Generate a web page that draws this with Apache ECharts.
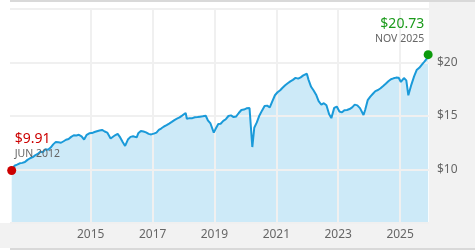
<!DOCTYPE html>
<html>
<head>
<meta charset="utf-8">
<script src="https://cdn.jsdelivr.net/npm/echarts@6/dist/echarts.min.js"></script>
<style>
html,body{margin:0;padding:0;background:#fff;}
#chart{width:475px;height:250px;}
</style>
</head>
<body>
<div id="chart"></div>
<script>
// Data
const dates = [
'2012-06-12','2012-07-15','2012-08-15','2012-09-15','2012-10-15','2012-11-15','2012-12-15',
'2013-01-15','2013-02-15','2013-03-15','2013-04-15','2013-05-15','2013-06-15','2013-07-15','2013-08-15','2013-09-15','2013-10-15','2013-11-15','2013-12-15',
'2014-01-15','2014-02-15','2014-03-15','2014-04-15','2014-05-15','2014-06-15','2014-07-15','2014-08-15','2014-09-15','2014-10-15','2014-11-15','2014-12-15',
'2015-01-15','2015-02-15','2015-03-15','2015-04-15','2015-05-15','2015-06-15','2015-07-15','2015-08-24','2015-09-15','2015-10-15','2015-11-15','2015-12-15',
'2016-01-15','2016-02-11','2016-03-15','2016-04-15','2016-05-15','2016-06-27','2016-07-15','2016-08-15','2016-09-15','2016-10-15','2016-11-15','2016-12-15',
'2017-01-15','2017-02-15','2017-03-15','2017-04-15','2017-05-15','2017-06-15','2017-07-15','2017-08-15','2017-09-15','2017-10-15','2017-11-15','2017-12-15',
'2018-01-26','2018-02-09','2018-03-15','2018-04-15','2018-05-15','2018-06-15','2018-07-15','2018-08-15','2018-09-20','2018-10-15','2018-11-15','2018-12-24',
'2019-01-15','2019-02-15','2019-03-15','2019-04-15','2019-05-15','2019-06-15','2019-07-15','2019-08-15','2019-09-15','2019-10-15','2019-11-15','2019-12-15',
'2020-01-15','2020-02-19','2020-03-23','2020-04-15','2020-05-15','2020-06-15','2020-07-15','2020-08-15','2020-09-15','2020-10-15','2020-11-15','2020-12-15',
'2021-01-15','2021-02-15','2021-03-15','2021-04-15','2021-05-15','2021-06-15','2021-07-15','2021-08-15','2021-09-15','2021-10-15','2021-11-15','2021-12-27',
'2022-01-15','2022-02-15','2022-03-15','2022-04-15','2022-05-15','2022-06-16','2022-07-15','2022-08-15','2022-09-15','2022-10-12','2022-11-15','2022-12-15',
'2023-01-15','2023-02-15','2023-03-15','2023-04-15','2023-05-15','2023-06-15','2023-07-15','2023-08-15','2023-09-15','2023-10-27','2023-11-15','2023-12-15',
'2024-01-15','2024-02-15','2024-03-15','2024-04-15','2024-05-15','2024-06-15','2024-07-15','2024-08-15','2024-09-15','2024-10-15','2024-11-15','2024-12-15',
'2025-01-10','2025-02-15','2025-03-15','2025-04-08','2025-05-15','2025-06-15','2025-07-15','2025-08-15','2025-09-15','2025-10-15','2025-11-10','2025-11-28'
];
const prices = [
9.91,10.35,10.45,10.58,10.62,10.70,10.90,
11.05,11.15,11.32,11.45,11.65,11.62,11.90,11.85,12.05,12.35,12.58,12.55,
12.50,12.64,12.78,12.85,13.05,13.20,13.18,13.24,13.10,12.80,13.24,13.38,
13.40,13.50,13.57,13.64,13.70,13.55,13.45,12.90,13.00,13.20,13.33,13.00,
12.55,12.20,12.80,13.05,13.10,13.00,13.38,13.60,13.55,13.47,13.33,13.28,
13.35,13.45,13.70,13.85,14.02,14.14,14.29,14.45,14.62,14.75,14.87,15.04,
15.28,14.75,14.80,14.80,14.88,14.91,14.94,14.97,15.02,14.60,14.30,13.45,
13.80,14.26,14.28,14.54,14.70,15.00,15.06,14.90,14.96,15.28,15.56,15.60,
15.72,15.75,12.10,13.90,14.40,15.05,15.50,15.93,15.97,15.80,16.39,16.94,
17.22,17.41,17.64,17.87,18.06,18.24,18.38,18.56,18.49,18.61,18.80,18.95,
18.40,17.73,17.41,16.99,16.39,16.05,16.20,16.00,15.19,14.80,15.76,15.88,
15.42,15.34,15.54,15.56,15.65,15.81,16.06,15.99,15.74,15.09,15.56,16.48,
16.81,17.08,17.33,17.43,17.59,17.80,18.01,18.24,18.44,18.52,18.59,18.58,
18.18,18.55,18.33,16.94,17.96,18.70,19.29,19.50,19.80,20.09,20.35,20.73
];
const xTickYears = [2015, 2017, 2019, 2021, 2023, 2025];
const yTicks = [10, 15, 20];
const startLabel = 'JUN 2012';
const endLabel = 'NOV 2025';
const xMin = '2012-05-23';
const xMax = '2025-12-08';

const toMs = s => Date.parse(s + 'T00:00:00Z');
const seriesData = dates.map((d, i) => [toMs(d), prices[i]]);
const last = seriesData.length - 1;
const tickTimes = xTickYears.map(y => Date.UTC(y, 0, 1));
const FONT = 'Noto Sans';

const chart = echarts.init(document.getElementById('chart'), null, {renderer: 'canvas'});
chart.setOption({
  animation: false,
  backgroundColor: '#ffffff',
  textStyle: {fontFamily: FONT},
  graphic: [
    {type: 'rect', z: -10, shape: {x: 429, y: 2, width: 46, height: 246}, style: {fill: '#f2f2f2'}},
    {type: 'rect', z: -10, shape: {x: 0, y: 223, width: 475, height: 25}, style: {fill: '#f2f2f2'}},
    {type: 'rect', z: -10, shape: {x: 10, y: 0, width: 465, height: 2}, style: {fill: '#d9d9d9'}},
    {type: 'rect', z: -10, shape: {x: 10, y: 248, width: 465, height: 2}, style: {fill: '#d9d9d9'}}
  ],
  grid: {left: 10, right: 46, top: 9, bottom: 27, containLabel: false},
  xAxis: {
    type: 'value',
    z: 2,
    min: toMs(xMin),
    max: toMs(xMax),
    axisLine: {show: false},
    axisTick: {show: false, customValues: tickTimes},
    axisLabel: {
      customValues: tickTimes,
      formatter: v => String(new Date(v).getUTCFullYear()),
      color: '#666', fontSize: 12, fontFamily: FONT, margin: 6
    },
    splitLine: {show: true, lineStyle: {color: '#f0f0f0', width: 2}}
  },
  yAxis: {
    type: 'value',
    position: 'right',
    z: 2,
    min: 5, max: 25, interval: 5,
    axisLine: {show: false},
    axisTick: {show: false},
    axisLabel: {
      formatter: v => yTicks.indexOf(v) >= 0 ? '$' + v : '',
      color: '#666', fontSize: 12, fontFamily: FONT, margin: 8
    },
    splitLine: {show: true, lineStyle: {color: '#f0f0f0', width: 2}}
  },
  series: [
    {
      type: 'line', z: 1, data: seriesData, symbol: 'none', silent: true,
      lineStyle: {width: 0, opacity: 0},
      areaStyle: {color: '#cdeaf8', opacity: 1}
    },
    {
      type: 'line', z: 3, data: seriesData, symbol: 'none',
      lineStyle: {color: '#1a9ad9', width: 2},
      markPoint: {
        symbol: 'circle', symbolSize: 9, animation: false,
        data: [
          {
            coord: seriesData[0],
            itemStyle: {color: '#cc0000'},
            label: {
              show: true, position: [7.5, -35], align: 'left',
              formatter: '{p|$' + prices[0].toFixed(2) + '}\n{d|' + startLabel + '}',
              rich: {
                p: {fontSize: 14, color: '#cc0000', lineHeight: 17, fontFamily: FONT},
                d: {fontSize: 10.5, color: '#666', lineHeight: 13, fontFamily: FONT}
              }
            }
          },
          {
            coord: seriesData[last],
            itemStyle: {color: '#0c9a0c'},
            label: {
              show: true, position: [0.5, -35.5], align: 'right',
              formatter: '{p|$' + prices[last].toFixed(2) + '}\n{d|' + endLabel + '}',
              rich: {
                p: {fontSize: 14, color: '#1a9a1a', lineHeight: 18, fontFamily: FONT, align: 'right'},
                d: {fontSize: 10.5, color: '#666', lineHeight: 13, fontFamily: FONT, align: 'right'}
              }
            }
          }
        ]
      }
    }
  ]
});
</script>
</body>
</html>
